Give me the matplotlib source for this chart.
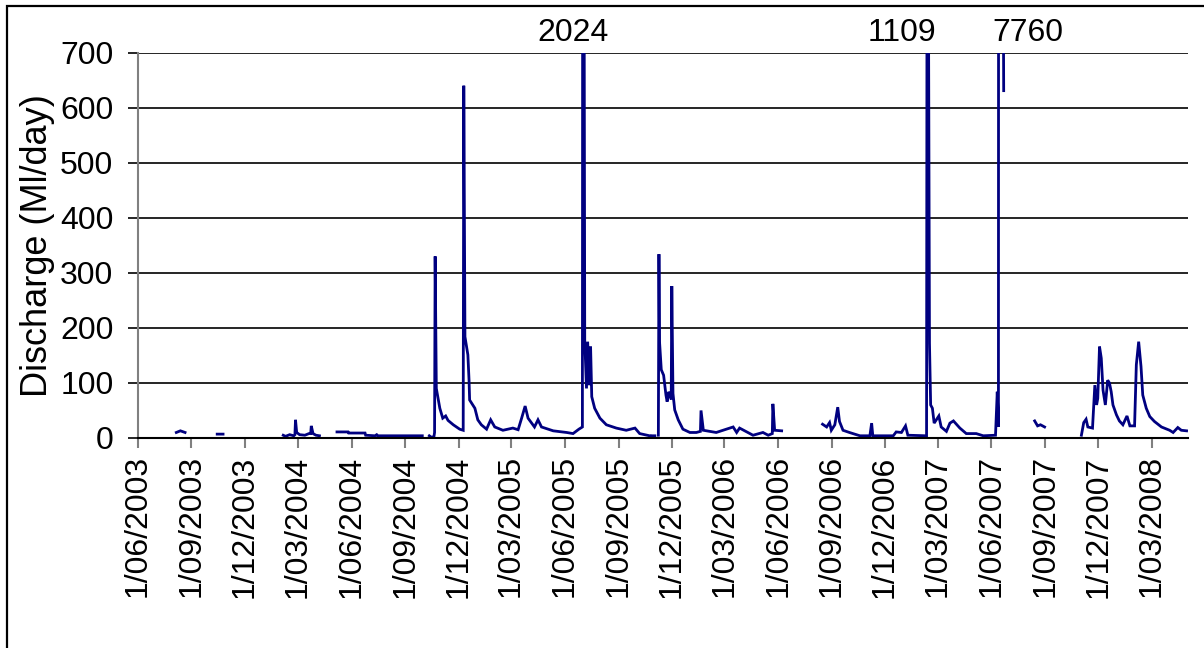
import numpy as np
import pandas as pd
import matplotlib
matplotlib.use("Agg")
import matplotlib.pyplot as plt
from matplotlib.patches import Rectangle

plt.rcParams["font.family"] = ["Liberation Sans", "DejaVu Sans"]

nan = np.nan

# Daily discharge readings (Ml/day); NaN rows mark gaps in the record.
dates = [
    "2003-08-06", "2003-08-13", "2003-08-21", "2003-09-15",
    "2003-10-15", "2003-10-25", "2003-12-01",
    "2004-02-05", "2004-02-09", "2004-02-16", "2004-02-23", "2004-02-25",
    "2004-02-26", "2004-02-28", "2004-03-04", "2004-03-13", "2004-03-20",
    "2004-03-23", "2004-03-24", "2004-03-27", "2004-04-01", "2004-04-07",
    "2004-04-20",
    "2004-05-07", "2004-05-26", "2004-05-27", "2004-06-24", "2004-06-25",
    "2004-07-11", "2004-07-14", "2004-07-16", "2004-08-20", "2004-09-30",
    "2004-10-06",
    "2004-10-12", "2004-10-16", "2004-10-20", "2004-10-21", "2004-10-22",
    "2004-10-24", "2004-10-30", "2004-11-04", "2004-11-09", "2004-11-13",
    "2004-11-22", "2004-12-03", "2004-12-09", "2004-12-10", "2004-12-12",
    "2004-12-17", "2004-12-19", "2004-12-20", "2004-12-29", "2005-01-03",
    "2005-01-09", "2005-01-18", "2005-01-25", "2005-02-01", "2005-02-15",
    "2005-03-04", "2005-03-13", "2005-03-19", "2005-03-25", "2005-03-30",
    "2005-04-10", "2005-04-16", "2005-04-22", "2005-05-12", "2005-06-04",
    "2005-06-15", "2005-06-25", "2005-07-01", "2005-07-02", "2005-07-05",
    "2005-07-08", "2005-07-10", "2005-07-13", "2005-07-15", "2005-07-17",
    "2005-07-22", "2005-07-31", "2005-08-11", "2005-08-28", "2005-09-14",
    "2005-09-29", "2005-10-07", "2005-10-24", "2005-10-26",
    "2005-10-28", "2005-11-02", "2005-11-05",
    "2005-11-08", "2005-11-09", "2005-11-10", "2005-11-13", "2005-11-17",
    "2005-11-21", "2005-11-23", "2005-11-26", "2005-11-29", "2005-11-30",
    "2005-12-01", "2005-12-03", "2005-12-06", "2005-12-12", "2005-12-20",
    "2006-01-01", "2006-01-12", "2006-01-19", "2006-01-20", "2006-01-24",
    "2006-02-15", "2006-03-16", "2006-03-22", "2006-03-27", "2006-04-19",
    "2006-05-06", "2006-05-15", "2006-05-22", "2006-05-23", "2006-05-26",
    "2006-06-07", "2006-07-10",
    "2006-08-16", "2006-08-23", "2006-08-28", "2006-08-31", "2006-09-06",
    "2006-09-11", "2006-09-14", "2006-09-20", "2006-10-01", "2006-10-19",
    "2006-11-05", "2006-11-08", "2006-11-10", "2006-12-15", "2006-12-20",
    "2006-12-29", "2007-01-05", "2007-01-09", "2007-02-10", "2007-02-11",
    "2007-02-13", "2007-02-15", "2007-02-17", "2007-02-20", "2007-02-23",
    "2007-03-03", "2007-03-07", "2007-03-16", "2007-03-22", "2007-03-28",
    "2007-04-08", "2007-04-19", "2007-05-06", "2007-05-18", "2007-06-08",
    "2007-06-11", "2007-06-13", "2007-06-15", "2007-06-20", "2007-06-22",
    "2007-07-20",
    "2007-08-14", "2007-08-19", "2007-08-24", "2007-08-31", "2007-10-01",
    "2007-11-02", "2007-11-06", "2007-11-10", "2007-11-13", "2007-11-21",
    "2007-11-25", "2007-11-28", "2007-11-30", "2007-12-03", "2007-12-06",
    "2007-12-09", "2007-12-13", "2007-12-17", "2007-12-20", "2007-12-23",
    "2007-12-26", "2008-01-01", "2008-01-06", "2008-01-12", "2008-01-19",
    "2008-01-24", "2008-02-01", "2008-02-04", "2008-02-08", "2008-02-12",
    "2008-02-15", "2008-02-21", "2008-02-27", "2008-03-06", "2008-03-18",
    "2008-04-01", "2008-04-07", "2008-04-15", "2008-04-21", "2008-04-30",
]
flow = [
    10, 13, 10, nan,
    7, 7, nan,
    5, 3, 6, 4, 6,
    33, 10, 6, 5, 8,
    8, 22, 8, 5, 4,
    nan,
    11, 11, 9, 9, 5,
    4, 6, 4, 4, 4,
    nan,
    4, 1, 3, 10, 330,
    90, 54, 36, 40, 32,
    24, 16, 14, 640, 184,
    151, 105, 69, 54, 33,
    24, 16, 33, 20, 14,
    18, 15, 36, 58, 36,
    20, 33, 20, 13, 10,
    8, 16, 20, 2024, 178,
    90, 175, 96, 166, 75,
    54, 36, 24, 18, 14,
    18, 8, 4, nan,
    4, 4, nan,
    5, 334, 175, 124, 114,
    78, 66, 84, 75, 70,
    276, 81, 51, 33, 16,
    10, 10, 12, 50, 14,
    10, 20, 10, 18, 5,
    10, 5, 8, 62, 14,
    13, nan,
    25, 20, 28, 14, 24,
    56, 30, 14, 10, 4,
    4, 27, 4, 4, 11,
    10, 22, 5, 4, 1109,
    900, 172, 60, 54, 27,
    40, 20, 12, 27, 31,
    18, 8, 8, 4, 5,
    84, 20, 7760, 1200, 631,
    nan,
    31, 22, 24, 20, nan,
    5, 28, 34, 20, 18,
    96, 60, 72, 166, 145,
    87, 60, 105, 100, 84,
    60, 42, 31, 24, 40,
    22, 22, 133, 175, 130,
    78, 54, 39, 30, 20,
    14, 10, 19, 14, 13,
]

# Off-scale peaks written above the plot
peak_dates = ["2005-07-02", "2007-02-11", "2007-06-15"]
peak_shift_pt = [-7, -18, 20]

tick_dates = pd.date_range("2003-06-01", "2008-03-01", freq="3MS")
yticks = [0, 100, 200, 300, 400, 500, 600, 700]

t = pd.to_datetime(dates)
q = np.array(flow, dtype=float)

fig = plt.figure(figsize=(12.04, 6.48), dpi=100)
ax = fig.add_axes([0.1144, 0.3241, 0.8721, 0.5946])

ax.plot(t, q, color="#000080", lw=2.0, solid_joinstyle="miter")

ax.set_xlim(pd.Timestamp("2003-06-01"), pd.Timestamp("2008-05-02"))
ax.set_ylim(0, 700)
ax.set_yticks(yticks)
ax.set_xticks(tick_dates)
ax.set_xticklabels([f"{d.day}/{d.month:02d}/{d.year}" for d in tick_dates],
                   rotation=90)
ax.yaxis.grid(True, color="black", lw=1.2)
ax.set_axisbelow(True)

for s in ("top", "right"):
    ax.spines[s].set_visible(False)
ax.spines["left"].set_color("#808080")
ax.spines["left"].set_linewidth(1.5)
ax.spines["bottom"].set_color("black")
ax.spines["bottom"].set_linewidth(1.5)

ax.tick_params(axis="x", direction="out", length=7.5, width=1.5,
               color="#808080", labelsize=23, pad=5)
ax.tick_params(axis="y", direction="out", length=7.5, width=1.2,
               color="black", labelsize=23, pad=10)

ax.set_ylabel("Discharge (Ml/day)", fontsize=26, labelpad=4)

for pd_, dx in zip(peak_dates, peak_shift_pt):
    val = q[list(dates).index(pd_)]
    ax.annotate(f"{val:.0f}", xy=(pd.Timestamp(pd_), 1.0),
                xycoords=("data", "axes fraction"),
                xytext=(dx, 8.4), textcoords="offset points",
                ha="center", va="baseline", fontsize=23, annotation_clip=False)

# chart-area border (runs off the right and bottom of the image)
fig.add_artist(Rectangle((7 / 1204, -0.05), 1.0, 1.05 - 6 / 648,
                         transform=fig.transFigure, fill=False,
                         edgecolor="black", lw=1.6, clip_on=False))

fig.savefig("out.png", dpi=100, facecolor="white")
